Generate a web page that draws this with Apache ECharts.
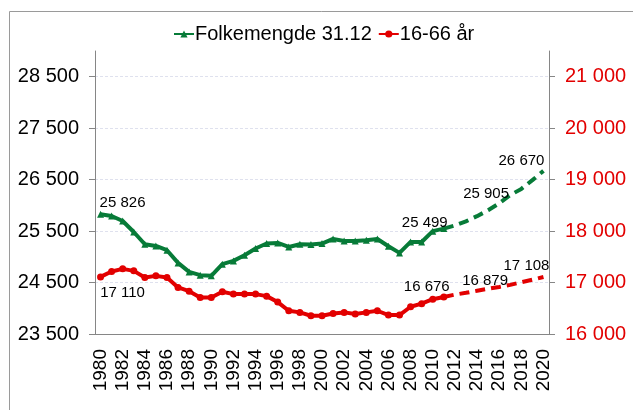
<!DOCTYPE html>
<html lang="no">

<head>
    <meta charset="UTF-8">
    <title>Folkemengde</title>
    <script src="https://cdn.jsdelivr.net/npm/echarts/dist/echarts.min.js"></script>
    <style>
        html, body {
            margin: 0;
            height: 100%;
            background: #fff;
        }

        #chart {
            width: 633px;
            height: 410px;
        }
    </style>
</head>

<body>
    <div id="chart"></div>
    <script>
        // years on the x axis
        var years = [];
        for (var y = 1980; y <= 2020; y++) years.push(String(y));

        // Folkemengde 31.12, registrert 1980-2011
        var folkActual = [25826, 25793, 25696, 25483, 25244, 25211, 25128, 24882, 24707, 24643,
            24630, 24857, 24921, 25031, 25161, 25258, 25270, 25192, 25244, 25238,
            25258, 25347, 25308, 25308, 25322, 25347, 25205, 25076, 25289, 25289,
            25499, 25548];
        // framskriving 2011-2020
        var folkProj = [25548, 25610, 25690, 25790, 25905, 26040, 26200, 26320, 26490, 26670];

        // 16-66 år, registrert 1980-2011
        var agedActual = [17110, 17215, 17266, 17227, 17098, 17130, 17098, 16905, 16833, 16711,
            16711, 16820, 16775, 16775, 16775, 16736, 16620, 16452, 16420, 16355,
            16355, 16400, 16420, 16388, 16420, 16452, 16368, 16368, 16530, 16590,
            16676, 16720];
        // framskriving 2011-2020
        var agedProj = [16720, 16765, 16800, 16840, 16879, 16915, 16955, 17005, 17055, 17108];

        var leftTicks = { min: 23500, max: 29000, interval: 1000 };
        var rightTicks = { min: 16000, max: 21500, interval: 1000 };

        var green = '#077b38';
        var red = '#e20000';

        function fmt(v) {
            return String(v).replace(/\B(?=(\d{3})+(?!\d))/g, ' ');
        }

        // pad a list out to the full year range
        function place(values, startYear) {
            var out = [];
            var start = years.indexOf(String(startYear));
            for (var i = 0; i < years.length; i++) {
                var k = i - start;
                out.push(k >= 0 && k < values.length ? values[k] : null);
            }
            return out;
        }

        // put a label on one point
        function labelAt(data, year, label) {
            var i = years.indexOf(String(year));
            data[i] = { value: data[i], label: label };
            return data;
        }

        function lbl(pos, offset) {
            return {
                show: true,
                position: pos,
                offset: offset,
                color: '#000',
                fontSize: 15,
                fontFamily: 'Liberation Sans, Arial, sans-serif',
                formatter: function (p) { return fmt(p.value); }
            };
        }

        var folkA = place(folkActual, 1980);
        labelAt(folkA, 1980, lbl('top', [22, 5]));
        labelAt(folkA, 2010, lbl('top', [-8, 8]));
        var folkP = place(folkProj, 2011);
        labelAt(folkP, 2015, lbl('top', [-2, -4]));
        labelAt(folkP, 2020, lbl('top', [-22, 2]));

        var agedA = place(agedActual, 1980);
        labelAt(agedA, 1980, lbl('bottom', [22, 0]));
        labelAt(agedA, 2010, lbl('top', [-6, 4]));
        var agedP = place(agedProj, 2011);
        labelAt(agedP, 2015, lbl('top', [-3, 5]));
        labelAt(agedP, 2020, lbl('top', [-17, 1]));

        var font = 'Liberation Sans, Arial, sans-serif';
        var axisGray = '#868686';

        var chart = echarts.init(document.getElementById('chart'));
        chart.setOption({
            animation: false,
            textStyle: { fontFamily: font },
            graphic: [{
                type: 'rect',
                shape: { x: 9.5, y: 11.5, width: 700, height: 500 },
                style: { fill: 'none', stroke: '#9a9a9a', lineWidth: 1 },
                z: -1
            }],
            legend: {
                data: ['Folkemengde 31.12', '16-66 år'],
                top: 19,
                left: 168,
                itemWidth: 20,
                itemHeight: 9,
                itemGap: 6,
                textStyle: { fontSize: 20, color: '#000', padding: [0, 0, 0, -4] }
            },
            grid: { left: 95, right: 84, top: 51, bottom: 76 },
            xAxis: {
                type: 'category',
                data: years,
                boundaryGap: true,
                axisLine: { lineStyle: { color: axisGray } },
                axisTick: { interval: 0, length: 4, lineStyle: { color: axisGray } },
                axisLabel: { interval: 1, rotate: 90, fontSize: 19, color: '#000', margin: 15 }
            },
            yAxis: [{
                type: 'value',
                min: leftTicks.min,
                max: leftTicks.max,
                interval: leftTicks.interval,
                axisLine: { show: true, lineStyle: { color: axisGray } },
                axisTick: { show: true, length: 6, lineStyle: { color: axisGray } },
                axisLabel: { fontSize: 20, color: '#000', margin: 16, showMaxLabel: false, formatter: fmt },
                splitLine: { showMaxLine: false, lineStyle: { color: '#dfe1ee', type: [3, 2] } }
            }, {
                type: 'value',
                min: rightTicks.min,
                max: rightTicks.max,
                interval: rightTicks.interval,
                axisLine: { show: true, lineStyle: { color: axisGray } },
                axisTick: { show: true, length: 6, lineStyle: { color: axisGray } },
                axisLabel: { fontSize: 20, color: red, margin: 16, showMaxLabel: false, formatter: fmt },
                splitLine: { show: false }
            }],
            series: [{
                name: 'Folkemengde 31.12',
                type: 'line',
                yAxisIndex: 0,
                data: folkA,
                symbol: 'triangle',
                symbolSize: 7,
                lineStyle: { color: green, width: 4 },
                itemStyle: { color: green },
                z: 3
            }, {
                name: 'Folkemengde prognose',
                type: 'line',
                yAxisIndex: 0,
                data: folkP,
                symbol: 'circle',
                symbolSize: 0,
                lineStyle: { color: green, width: 4, type: [10, 6] },
                itemStyle: { color: green },
                z: 3
            }, {
                name: '16-66 år',
                type: 'line',
                yAxisIndex: 1,
                data: agedA,
                symbol: 'circle',
                symbolSize: 7,
                lineStyle: { color: red, width: 4 },
                itemStyle: { color: red },
                z: 2
            }, {
                name: '16-66 år prognose',
                type: 'line',
                yAxisIndex: 1,
                data: agedP,
                symbol: 'circle',
                symbolSize: 0,
                lineStyle: { color: red, width: 4, type: [10, 6] },
                itemStyle: { color: red },
                z: 2
            }]
        });
    </script>
</body>

</html>
